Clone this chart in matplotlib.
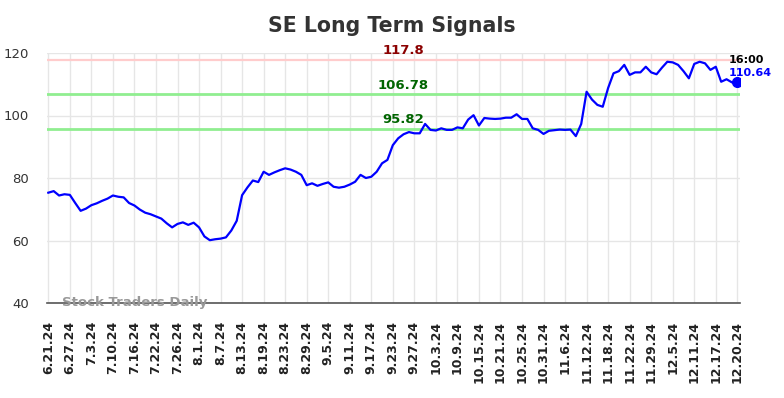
import matplotlib
matplotlib.use("Agg")
import matplotlib.pyplot as plt

title = "SE Long Term Signals"
tick_labels = ["6.21.24", "6.27.24", "7.3.24", "7.10.24", "7.16.24", "7.22.24", "7.26.24",
               "8.1.24", "8.7.24", "8.13.24", "8.19.24", "8.23.24", "8.29.24", "9.5.24",
               "9.11.24", "9.17.24", "9.23.24", "9.27.24", "10.3.24", "10.9.24", "10.15.24",
               "10.21.24", "10.25.24", "10.31.24", "11.6.24", "11.12.24", "11.18.24",
               "11.22.24", "11.29.24", "12.5.24", "12.11.24", "12.17.24", "12.20.24"]
prices = [75.3, 75.8, 74.4, 74.8, 74.6, 72.0, 69.5, 70.2, 71.3, 71.9,
          72.7, 73.4, 74.4, 74.0, 73.8, 72.0, 71.2, 69.9, 68.9, 68.4,
          67.7, 67.0, 65.5, 64.2, 65.3, 65.8, 65.0, 65.7, 64.2, 61.3,
          60.1, 60.4, 60.6, 61.0, 63.2, 66.3, 74.5, 77.0, 79.2, 78.7,
          82.0, 81.0, 81.8, 82.5, 83.1, 82.7, 82.0, 81.0, 77.7, 78.3,
          77.5, 78.1, 78.6, 77.2, 76.9, 77.2, 77.9, 78.8, 81.0, 80.0,
          80.4, 82.0, 84.7, 85.8, 90.5, 92.7, 94.0, 94.7, 94.3, 94.3,
          97.3, 95.4, 95.2, 95.9, 95.4, 95.4, 96.2, 95.9, 98.7, 100.1,
          96.8, 99.2, 99.0, 98.9, 99.0, 99.3, 99.3, 100.4, 98.9, 98.9,
          95.9, 95.4, 94.1, 95.1, 95.3, 95.5, 95.4, 95.5, 93.4, 97.3,
          107.6, 105.1, 103.4, 102.8, 108.8, 113.5, 114.2, 116.2, 113.0, 113.8,
          113.8, 115.6, 113.8, 113.2, 115.3, 117.2, 117.0, 116.2, 114.2, 111.9,
          116.5, 117.2, 116.7, 114.6, 115.6, 110.8, 111.6, 110.6, 110.64]
resistance = 117.8
levels_green = [106.78, 95.82]
last_time = "16:00"
last_value = 110.64
watermark = "Stock Traders Daily"

fig = plt.figure(figsize=(7.84, 3.98), dpi=100)
ax = fig.add_axes([46.7 / 784, 1 - 303 / 398, (740 - 46.7) / 784, 250 / 398])

x = list(range(len(prices)))
ax.plot(x, prices, color="#0000ff", lw=1.6, zorder=3)
ax.plot([x[-1]], [prices[-1]], "o", color="#0000ff", ms=7, zorder=4)

ax.axhline(resistance, color="#ffcccc", lw=1.6, zorder=2)
for lv in levels_green:
    ax.axhline(lv, color="#90ee90", lw=2, zorder=2)

label_x = 66
ax.text(label_x, resistance + 0.8, f"{resistance:g}", color="#8b0000", fontsize=9.5,
        fontweight="bold", ha="center", va="bottom", zorder=5)
for lv in levels_green:
    ax.text(label_x, lv + 0.8, f"{lv:g}", color="#006400", fontsize=9.5,
            fontweight="bold", ha="center", va="bottom", zorder=5)

ax.text(x[-1] - 1.6, 117.8, last_time, color="black", fontsize=8,
        fontweight="bold", ha="left", va="center", zorder=5)
ax.text(x[-1] - 1.6, 113.6, f"{last_value:.2f}", color="#0000ff", fontsize=8,
        fontweight="bold", ha="left", va="center", zorder=5)

ax.text(2.5, 40.2, watermark, color="#999999", fontsize=9.5, fontweight="bold",
        ha="left", va="center", zorder=5)

ax.set_xlim(-0.3, 128.5)
ax.set_ylim(40, 120)
ax.set_yticks([40, 60, 80, 100, 120])
ticks = list(range(0, len(prices), 4))
ax.set_xticks(ticks)
ax.set_xticklabels(tick_labels, rotation=90, fontsize=9, fontweight="bold", color="#222222")
ax.tick_params(axis="x", length=0, pad=13)
ax.tick_params(axis="y", length=0, pad=13, labelsize=9.5, labelcolor="#333333")
ax.grid(True, color="#e6e6e6", lw=1)
ax.set_axisbelow(True)
for s in ["top", "right", "left"]:
    ax.spines[s].set_visible(False)
ax.spines["bottom"].set_color("#555555")
ax.spines["bottom"].set_linewidth(1.2)

fig.suptitle(title, x=0.5, y=1 - 26 / 398, va="center", fontsize=14.8,
             fontweight="bold", color="#333333")

fig.savefig("out.png", dpi=100)
